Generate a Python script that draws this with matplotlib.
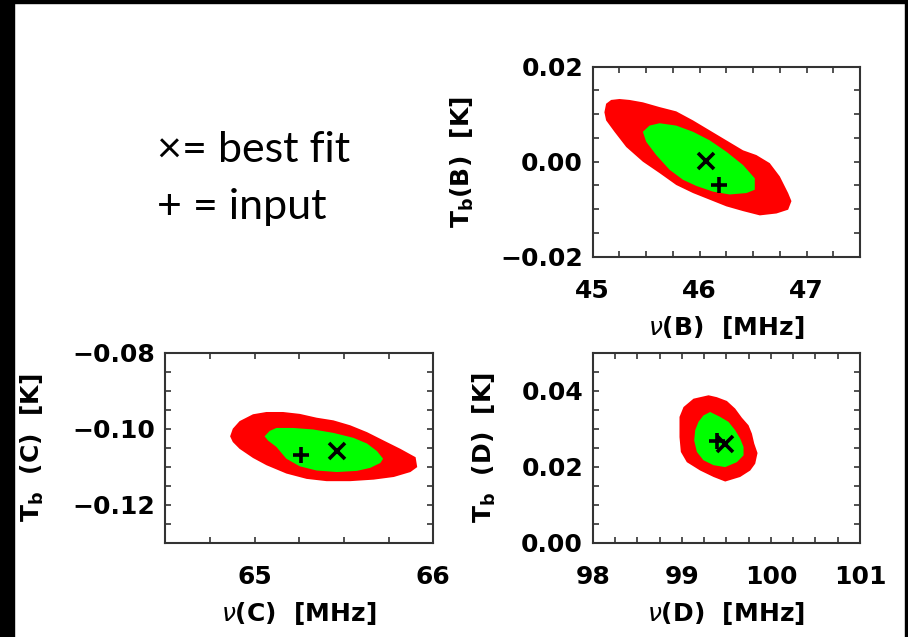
import matplotlib
matplotlib.use("Agg")
import matplotlib.pyplot as plt
from matplotlib.patches import Rectangle
from matplotlib.ticker import MultipleLocator, FuncFormatter

# ---------------------------------------------------------
# contour outlines (nu [MHz], Tb [K])
# ---------------------------------------------------------
b_outer_nu = [45.109, 45.125, 45.172, 45.25, 45.344, 45.469, 45.625, 45.781,
              45.938, 46.094, 46.25, 46.406, 46.531, 46.656, 46.75, 46.828,
              46.859, 46.828, 46.719, 46.563, 46.406, 46.25, 46.094, 45.938,
              45.781, 45.625, 45.469, 45.313, 45.203, 45.125]
b_outer_tb = [0.0104, 0.0122, 0.0130, 0.0132, 0.0130, 0.0125, 0.0115, 0.0106,
              0.0087, 0.0066, 0.0045, 0.0024, 0.0014, -0.0003, -0.0031, -0.0066,
              -0.0083, -0.0101, -0.0109, -0.0113, -0.0104, -0.0094, -0.0080, -0.0066,
              -0.0049, -0.0024, 0.0, 0.0031, 0.0063, 0.0087]
b_inner_nu = [45.469, 45.531, 45.625, 45.781, 45.938, 46.094, 46.25, 46.406,
              46.516, 46.516, 46.438, 46.281, 46.125, 45.969, 45.844, 45.719,
              45.594, 45.5]
b_inner_tb = [0.0063, 0.0076, 0.0081, 0.0076, 0.0063, 0.0045, 0.0021, -0.0007,
              -0.0035, -0.0059, -0.0066, -0.0069, -0.0063, -0.0051, -0.0038, -0.0017,
              0.0014, 0.0042]
b_fit = (46.056, 0.0002)
b_input = (46.181, -0.0050)

c_outer_nu = [64.863, 64.878, 64.916, 64.991, 65.066, 65.159, 65.253, 65.347,
              65.441, 65.535, 65.629, 65.722, 65.816, 65.901, 65.910, 65.872,
              65.779, 65.666, 65.535, 65.403, 65.291, 65.178, 65.066, 64.991,
              64.916, 64.878]
c_outer_tb = [-0.1020, -0.1000, -0.0980, -0.0962, -0.0956, -0.0956, -0.0961, -0.0971,
              -0.0978, -0.0991, -0.1009, -0.1031, -0.1053, -0.1075, -0.1101, -0.1114,
              -0.1127, -0.1134, -0.1138, -0.1138, -0.1132, -0.1118, -0.1096, -0.1077,
              -0.1053, -0.1035]
c_inner_nu = [65.056, 65.084, 65.122, 65.216, 65.328, 65.441, 65.553, 65.629,
              65.685, 65.719, 65.704, 65.647, 65.572, 65.460, 65.347, 65.253,
              65.178, 65.122, 65.075]
c_inner_tb = [-0.1020, -0.1006, -0.0998, -0.0998, -0.1002, -0.1011, -0.1024, -0.1039,
              -0.1059, -0.1079, -0.1090, -0.1103, -0.1111, -0.1114, -0.1110, -0.1099,
              -0.1079, -0.1048, -0.1031]
c_fit = (65.463, -0.1059)
c_input = (65.259, -0.1070)

d_outer_nu = [98.974, 99.019, 99.131, 99.300, 99.393, 99.506, 99.599, 99.674,
              99.749, 99.787, 99.813, 99.850, 99.824, 99.768, 99.655, 99.487,
              99.356, 99.206, 99.056, 98.989, 98.974]
d_outer_tb = [0.0331, 0.0357, 0.0379, 0.0388, 0.0383, 0.0373, 0.0353, 0.0329,
              0.0309, 0.0287, 0.0261, 0.0236, 0.0208, 0.0190, 0.0173, 0.0161,
              0.0173, 0.0190, 0.0212, 0.0239, 0.0278]
d_inner_nu = [99.150, 99.187, 99.243, 99.318, 99.431, 99.524, 99.599, 99.655,
              99.693, 99.693, 99.618, 99.487, 99.356, 99.243, 99.169, 99.139]
d_inner_tb = [0.0296, 0.0318, 0.0335, 0.0344, 0.0331, 0.0318, 0.0296, 0.0274,
              0.0252, 0.0230, 0.0212, 0.0199, 0.0204, 0.0217, 0.0239, 0.0269]
d_fit = (99.487, 0.0259)
d_input = (99.397, 0.0267)

b_xticks = [45, 46, 47]
c_xticks = [65, 66]
d_xticks = [98, 99, 100, 101]
b_yticks = [-0.02, 0.00, 0.02]
c_yticks = [-0.12, -0.10, -0.08]
d_yticks = [0.00, 0.02, 0.04]


def fmt_tb(v, pos):
    return f"{v:.2f}".replace("-", "\u2212")


def panel(fig, rect, outer, inner, fit, inp, xlim, ylim, xticks, yticks,
          xlabel, ylabel, ylab_x):
    ax = fig.add_axes(rect)
    ax.fill(outer[0], outer[1], color="#ff0000", lw=0, zorder=1)
    ax.fill(inner[0], inner[1], color="#00ff00", lw=0, zorder=2)
    ax.plot(*fit, marker="x", ms=11, mew=2.6, color="k", zorder=3)
    ax.plot(*inp, marker="+", ms=11, mew=2.6, color="k", zorder=3)
    ax.set_xlim(*xlim)
    ax.set_ylim(*ylim)
    ax.set_xticks(xticks)
    ax.set_yticks(yticks)
    ax.xaxis.set_minor_locator(MultipleLocator(0.25))
    ax.yaxis.set_minor_locator(MultipleLocator(0.005))
    ax.yaxis.set_major_formatter(FuncFormatter(fmt_tb))
    ax.tick_params(which="both", direction="in", top=True, right=True,
                   length=4, width=1.2, color="#333333", labelsize=18)
    ax.tick_params(axis="x", pad=16)
    ax.tick_params(axis="y", pad=7)
    for lab in ax.get_xticklabels() + ax.get_yticklabels():
        lab.set_fontweight("bold")
    for s in ax.spines.values():
        s.set_color("#333333")
        s.set_linewidth(1.5)
    ax.set_xlabel(xlabel, fontsize=18, fontweight="bold", va="center")
    ax.set_ylabel(ylabel, fontsize=18, fontweight="bold", va="center")
    ax.xaxis.set_label_coords(0.5, -0.37)
    ax.yaxis.set_label_coords(ylab_x, 0.5)
    return ax


plt.rcParams["font.family"] = ["DejaVu Sans"]
plt.rcParams["mathtext.fontset"] = "dejavusans"

fig = plt.figure(figsize=(9.08, 6.37), dpi=100)

panel(fig, [0.6528, 0.5970, 0.2943, 0.2983],
      (b_outer_nu, b_outer_tb), (b_inner_nu, b_inner_tb), b_fit, b_input,
      (45, 47.5), (-0.02, 0.02), b_xticks, b_yticks,
      r"$\nu$(B)  [MHz]", r"T$_\mathbf{b}$(B)  [K]", -0.489)
panel(fig, [0.1820, 0.1480, 0.2952, 0.2983],
      (c_outer_nu, c_outer_tb), (c_inner_nu, c_inner_tb), c_fit, c_input,
      (64.5, 66), (-0.13, -0.08), c_xticks, c_yticks,
      r"$\nu$(C)  [MHz]", r"T$_\mathbf{b}$  (C)  [K]", -0.494)
panel(fig, [0.6528, 0.1480, 0.2943, 0.2983],
      (d_outer_nu, d_outer_tb), (d_inner_nu, d_inner_tb), d_fit, d_input,
      (98, 101), (0.0, 0.05), d_xticks, d_yticks,
      r"$\nu$(D)  [MHz]", r"T$_\mathbf{b}$  (D)  [K]", -0.407)

fig.text(0.1729, 0.7645, "\u00d7= best fit", fontsize=31, family="Lato",
         va="center", ha="left")
fig.text(0.1729, 0.675, "+ = input", fontsize=31, family="Lato",
         va="center", ha="left")

# black frame on left, top and right edges
W, H = 908, 637
fig.patches.append(Rectangle((0, 0), 14 / W, 1, transform=fig.transFigure,
                             color="k", zorder=10))
fig.patches.append(Rectangle((0, 1 - 3 / H), 1, 3 / H, transform=fig.transFigure,
                             color="k", zorder=10))
fig.patches.append(Rectangle((1 - 3 / W, 0), 3 / W, 1, transform=fig.transFigure,
                             color="k", zorder=10))

fig.savefig("out.png", dpi=100)
